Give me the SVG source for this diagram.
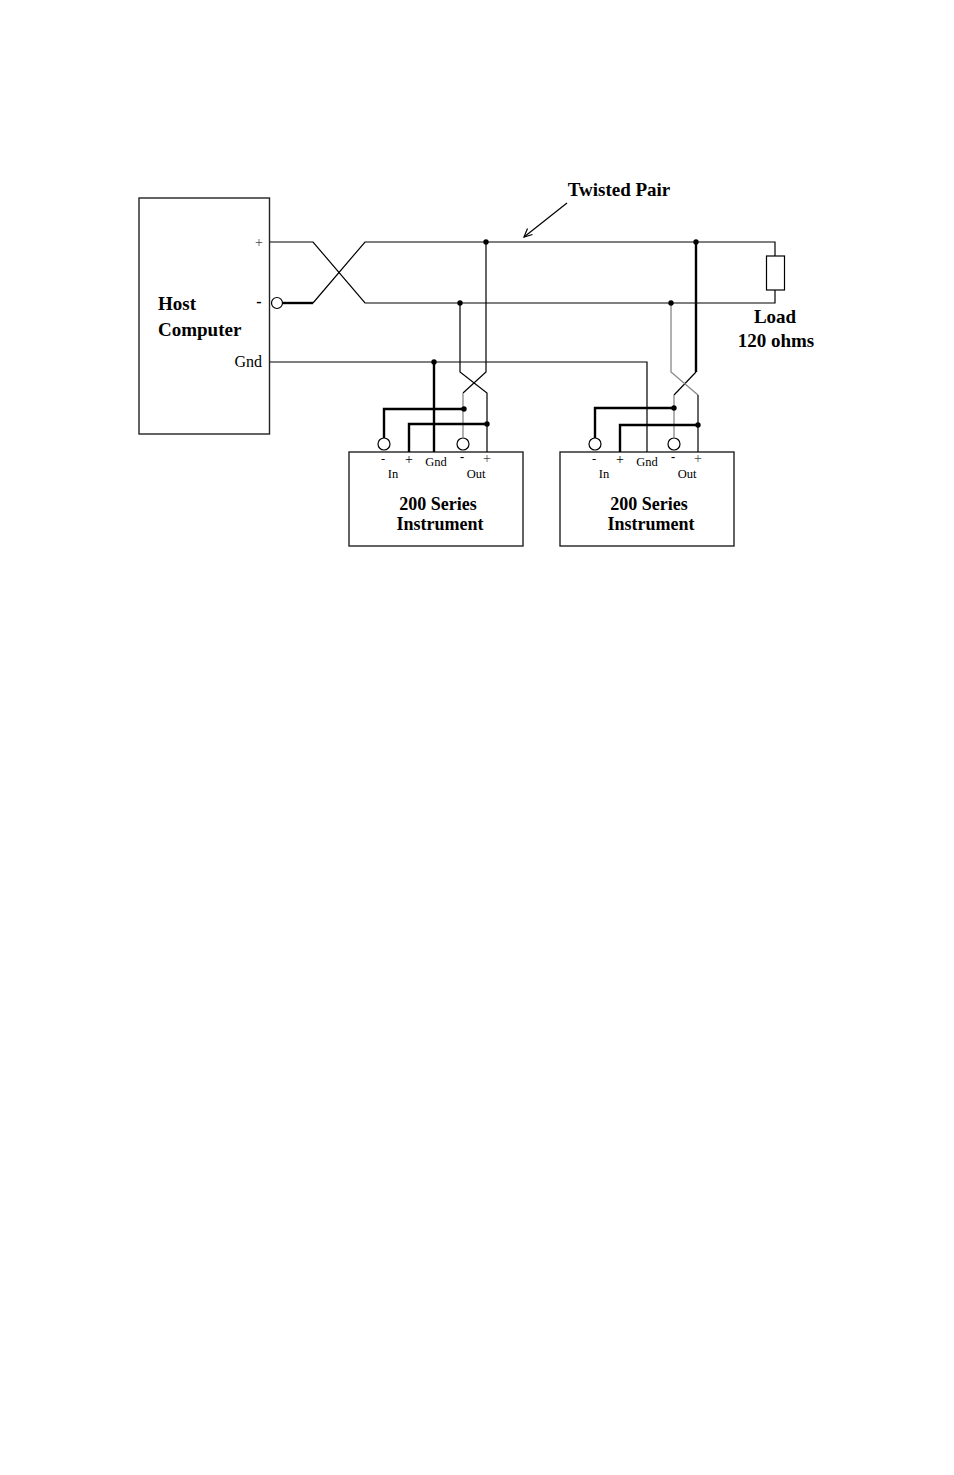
<svg xmlns="http://www.w3.org/2000/svg" width="954" height="1475" viewBox="0 0 954 1475">
<style>
.w{fill:none;stroke:#000;stroke-width:1.2}
.g{fill:none;stroke:#888;stroke-width:1.3}
.t{fill:none;stroke:#000;stroke-width:2.4}
.box{fill:#fff;stroke:#222;stroke-width:1.4}
.dot{fill:#000}
.term{fill:#fff;stroke:#000;stroke-width:1.2}
.big{font-family:"Liberation Serif",serif;font-weight:bold;font-size:19px;fill:#000}
.ins{font-family:"Liberation Serif",serif;font-weight:bold;font-size:18px;fill:#000}
.lbl{font-family:"Liberation Serif",serif;font-size:16px;fill:#000}
.sm{font-family:"Liberation Serif",serif;font-size:12.5px;fill:#000}
.pl{font-family:"Liberation Serif",serif;font-size:14px;fill:#444}
</style>
<rect width="954" height="1475" fill="#fff"/>
<g id="host">
<rect class="box" x="139" y="198" width="130.5" height="236"/>
<text class="big" x="158" y="310">Host</text>
<text class="big" x="158" y="336">Computer</text>
<text class="pl" x="259" y="247" text-anchor="middle">+</text>
<text class="lbl" x="259" y="307" text-anchor="middle" font-weight="bold">-</text>
<text class="lbl" x="262" y="367" text-anchor="end">Gnd</text>
<circle class="term" cx="277" cy="303" r="5.5"/>
</g>
<g id="instrument1">
<rect class="box" x="349" y="452" width="174" height="94"/>
<text class="sm" x="383" y="463" text-anchor="middle">-</text>
<text class="pl" x="409" y="464" text-anchor="middle" style="fill:#000">+</text>
<text class="sm" x="436" y="466" text-anchor="middle">Gnd</text>
<text class="sm" x="462" y="461" text-anchor="middle" font-weight="bold">-</text>
<text class="pl" x="487" y="463" text-anchor="middle">+</text>
<text class="sm" x="393" y="478" text-anchor="middle">In</text>
<text class="sm" x="476" y="478" text-anchor="middle">Out</text>
<text class="ins" x="438" y="510" text-anchor="middle">200 Series</text>
<text class="ins" x="440" y="530" text-anchor="middle">Instrument</text>
<circle class="term" cx="384" cy="444" r="6"/>
<circle class="term" cx="463" cy="444" r="6"/>
</g>
<g id="instrument2">
<rect class="box" x="560" y="452" width="174" height="94"/>
<text class="sm" x="594" y="463" text-anchor="middle">-</text>
<text class="pl" x="620" y="464" text-anchor="middle" style="fill:#000">+</text>
<text class="sm" x="647" y="466" text-anchor="middle">Gnd</text>
<text class="sm" x="673" y="461" text-anchor="middle" font-weight="bold">-</text>
<text class="pl" x="698" y="463" text-anchor="middle">+</text>
<text class="sm" x="604" y="478" text-anchor="middle">In</text>
<text class="sm" x="687" y="478" text-anchor="middle">Out</text>
<text class="ins" x="649" y="510" text-anchor="middle">200 Series</text>
<text class="ins" x="651" y="530" text-anchor="middle">Instrument</text>
<circle class="term" cx="595" cy="444" r="6"/>
<circle class="term" cx="674" cy="444" r="6"/>
</g>
<g id="load">
<rect class="term" x="766.5" y="256" width="18" height="34"/>
<text class="big" x="775" y="323" text-anchor="middle">Load</text>
<text class="big" x="776" y="347" text-anchor="middle">120 ohms</text>
</g>
<g id="twisted-pair-label">
<text class="big" x="619" y="196" text-anchor="middle">Twisted Pair</text>
</g>
<g id="connectors">
<polyline class="w" points="270,242 313,242 365,303 775,303 775,290"/>
<polyline class="t" points="282.5,303 313,303"/>
<polyline class="w" points="313,303 365,242 775,242 775,256"/>
<polyline class="w" points="270,362 647,362 647,452"/>
<line class="t" x1="434" y1="362" x2="434" y2="452"/>
<polyline class="w" points="486,242 486,372 463,393"/>
<line class="g" x1="463" y1="393" x2="463" y2="438"/>
<polyline class="w" points="460,303 460,372 487,393 487,452"/>
<polyline class="t" points="384,438 384,409 464,409"/>
<polyline class="t" points="409,452 409,424 487,424"/>
<polyline class="t" points="696,242 696,372"/>
<polyline class="w" points="696,372 674,395"/>
<line class="g" x1="674" y1="395" x2="674" y2="438"/>
<polyline class="g" points="671,303 671,372 698,395"/>
<line class="w" x1="698" y1="395" x2="698" y2="452"/>
<polyline class="t" points="595,438 595,408 674,408"/>
<polyline class="t" points="620,452 620,425 698,425"/>
<line class="w" x1="567" y1="203" x2="524" y2="237"/>
<polyline class="w" points="527.5,228.5 524,237 532.5,234.5"/>
<circle class="dot" cx="486" cy="242" r="2.7"/>
<circle class="dot" cx="460" cy="303" r="2.7"/>
<circle class="dot" cx="434" cy="362" r="2.7"/>
<circle class="dot" cx="464" cy="409" r="2.7"/>
<circle class="dot" cx="487" cy="424" r="2.7"/>
<circle class="dot" cx="696" cy="242" r="2.7"/>
<circle class="dot" cx="671" cy="303" r="2.7"/>
<circle class="dot" cx="674" cy="408" r="2.7"/>
<circle class="dot" cx="698" cy="425" r="2.7"/>
</g>
</svg>
